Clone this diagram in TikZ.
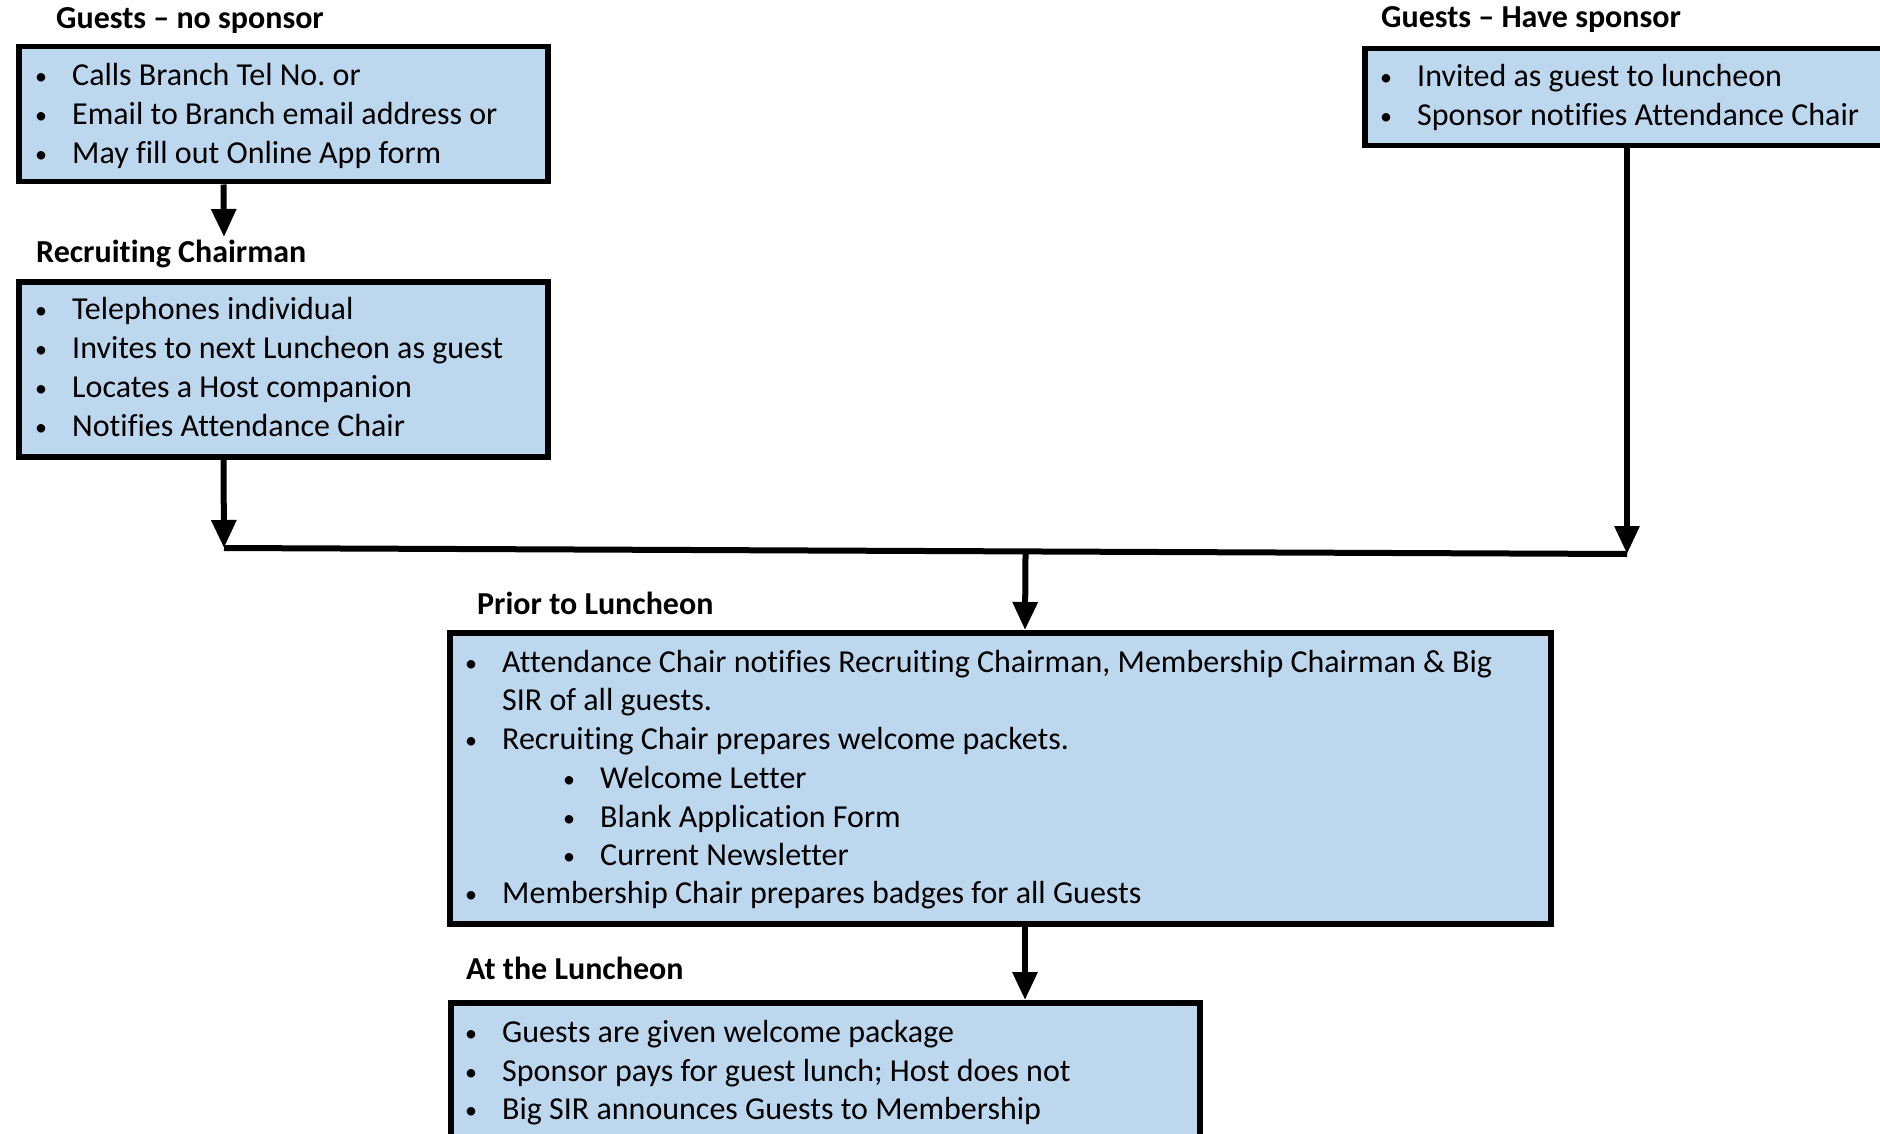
\documentclass[tikz,border=0pt]{standalone}
\usepackage{fontspec}
\setmainfont{Carlito}[RawFeature={-liga}]
\usetikzlibrary{arrows.meta,calc}
\definecolor{boxfill}{HTML}{BDD7EE}
\frenchspacing
\newcommand\bitem[4]{%
  \node[bul] (#1b) at ($(#2,#3)+(-31,-1)$) {\fontsize{24}{24}\selectfont •};
  \node[txt] (#1) at (#2,#3) {#4};}
\begin{document}
\begin{tikzpicture}[x=1pt,y=-1pt,
  box/.style={draw=black, line width=5.5pt, fill=boxfill, rectangle, inner sep=0pt, anchor=north west},
  txt/.style={anchor=base west, inner sep=0pt, font=\fontsize{32}{39}\selectfont},
  bul/.style={anchor=base, inner sep=0pt},
  ttl/.style={anchor=base west, inner sep=0pt, font=\fontsize{32}{39}\selectfont\bfseries},
  conn/.style={line width=6pt},
  arr/.style={line width=6pt, -{Triangle[width=24pt,length=28pt]}}]
\useasboundingbox (0,0) rectangle (1880,1134);
\clip (0,0) rectangle (1880,1134);

% boxes
\node[box, minimum width=529pt, minimum height=135pt] (b1) at (16,44) {};
\node[box, minimum width=529pt, minimum height=175pt] (b2) at (16,279) {};
\node[box, minimum width=560pt, minimum height=97pt] (b5) at (1362,46) {};
\node[box, minimum width=1101pt, minimum height=291pt] (b3) at (447,630) {};
\node[box, minimum width=749pt, minimum height=180pt] (b4) at (448,1000) {};

% titles
\node[ttl] (t1) at (56,29) {Guests – no sponsor};
\node[ttl] (t2) at (36,262) {Recruiting Chairman};
\node[ttl] (t5) at (1381,28) {Guests – Have sponsor};
\node[ttl] (t3) at (477,614) {Prior to Luncheon};
\node[ttl] (t4) at (466,979) {At the Luncheon};

% box 1
\bitem{a1}{72}{86}{Calls Branch Tel No. or}
\bitem{a2}{72}{125}{Email to Branch email address or}
\bitem{a3}{72}{164}{May fill out Online App form}
% box 2
\bitem{c1}{72}{319}{Telephones individual}
\bitem{c2}{72}{358}{Invites to next Luncheon as guest}
\bitem{c3}{72}{397}{Locates a Host companion}
\bitem{c4}{72}{436}{Notifies Attendance Chair}
% right box
\bitem{r1}{1417}{87}{Invited as guest to luncheon}
\bitem{r2}{1417}{126}{Sponsor notifies Attendance Chair}
% box 3
\bitem{p1}{502}{672}{Attendance Chair notifies Recruiting Chairman, Membership Chairman \& Big}
\node[txt] (p1x) at (502,710) {SIR of all guests.};
\bitem{p2}{502}{749}{Recruiting Chair prepares welcome packets.}
\bitem{p3}{600}{788}{Welcome Letter}
\bitem{p4}{600}{827}{Blank Application Form}
\bitem{p5}{600}{865}{Current Newsletter}
\bitem{p6}{502}{903}{Membership Chair prepares badges for all Guests}
% box 4
\bitem{q1}{502}{1042}{Guests are given welcome package}
\bitem{q2}{502}{1081}{Sponsor pays for guest lunch; Host does not}
\bitem{q3}{502}{1119}{Big SIR announces Guests to Membership}

% connectors
\coordinate (xL) at (223.5,0);
\coordinate (xM) at (1025,0);
\coordinate (xR) at (1627,0);
\coordinate (jL) at (224,548);
\coordinate (jR) at (1627,554);
\coordinate (jM) at ($(jL)!0.5713!(jR)$);
\draw[arr] (b1.south -| xL) -- (224,237);
\draw[arr] (b2.south -| xL) -- (jL);
\draw[arr] (b5.south -| xR) -- (jR);
\draw[conn] (jL) -- (jR);
\draw[arr] (jM) -- (b3.north -| xM);
\draw[arr] (b3.south -| xM) -- (b4.north -| xM);
\end{tikzpicture}
\end{document}
